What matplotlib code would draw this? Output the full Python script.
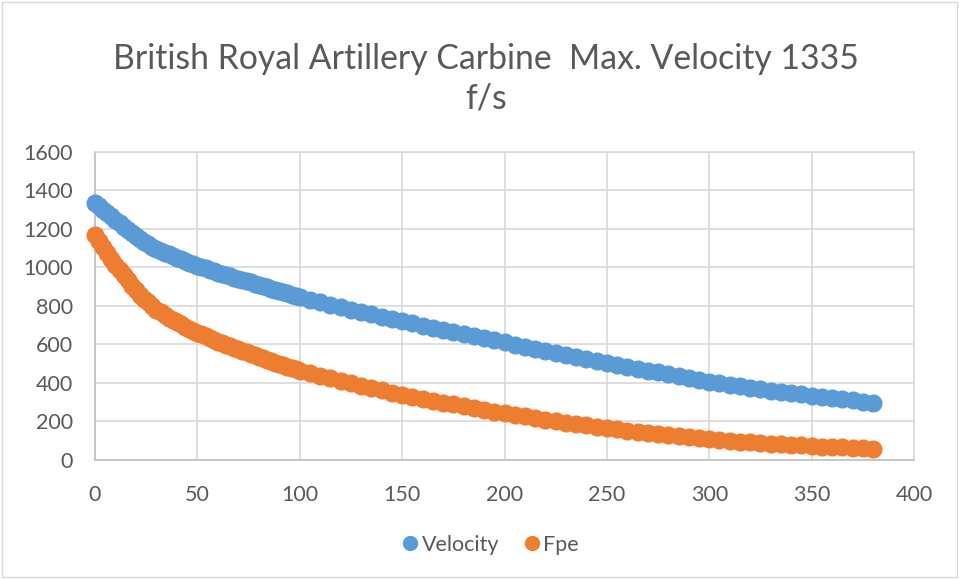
import matplotlib
matplotlib.use("Agg")
import matplotlib.pyplot as plt
from matplotlib.patches import Rectangle
from matplotlib.lines import Line2D

# Range (x) for the two ballistic series
range_near = [0, 2, 4, 6, 8, 10, 12, 14, 16, 18, 20, 22, 24, 26, 28, 30, 32, 34,
              36, 38, 40, 42, 44, 46, 48, 50, 52, 54, 56, 58, 60, 62, 64, 66, 68,
              70, 72, 74, 76, 78, 80, 82, 84, 86, 88, 90, 92, 94, 96, 98, 100]
range_far = [105, 110, 115, 120, 125, 130, 135, 140, 145, 150, 155, 160, 165, 170,
             175, 180, 185, 190, 195, 200, 205, 210, 215, 220, 225, 230, 235, 240,
             245, 250, 255, 260, 265, 270, 275, 280, 285, 290, 295, 300, 305, 310,
             315, 320, 325, 330, 335, 340, 345, 350, 355, 360, 365, 370, 375, 380]

velocity_near = [1335, 1317, 1299, 1281, 1263, 1245, 1228, 1211, 1194, 1177, 1161,
                 1147, 1133, 1120, 1107, 1095, 1085, 1075, 1066, 1057, 1048, 1040,
                 1032, 1024, 1016, 1008, 1001, 994, 986, 979, 972, 966, 959, 953,
                 946, 940, 934, 927, 921, 914, 908, 902, 895, 889, 882, 876, 870,
                 864, 857, 851, 845]
velocity_far = [832, 819, 806, 793, 780, 768, 756, 744, 732, 720, 708, 697, 686, 675,
                664, 653, 642, 631, 620, 610, 599, 588, 577, 567, 556, 545, 534, 524,
                513, 503, 493, 483, 473, 463, 454, 444, 434, 425, 415, 406, 398, 390,
                382, 375, 367, 360, 353, 346, 340, 334, 328, 321, 315, 309, 303, 298]

fpe_near = [1165, 1134, 1103, 1073, 1043, 1013, 986, 958, 932, 905, 880, 858, 837,
            817, 798, 780, 766, 752, 739, 727, 714, 703, 692, 682, 671, 661, 652,
            642, 632, 623, 614, 606, 598, 590, 582, 574, 566, 558, 550, 542, 535,
            527, 520, 512, 505, 498, 491, 484, 477, 471, 464]
fpe_far = [452, 438, 425, 411, 398, 386, 374, 362, 350, 339, 328, 318, 308, 298, 288,
           279, 269, 260, 251, 243, 235, 226, 218, 210, 202, 194, 186, 179, 172, 165,
           159, 152, 146, 140, 135, 129, 123, 118, 113, 108, 104, 99, 95, 92, 88, 85,
           81, 78, 76, 73, 70, 67, 65, 62, 60, 58]

x_ticks = [0, 50, 100, 150, 200, 250, 300, 350, 400]
y_ticks = [0, 200, 400, 600, 800, 1000, 1200, 1400, 1600]

title = "British Royal Artillery Carbine  Max. Velocity 1335\nf/s"

BLUE = "#5B9BD5"
ORANGE = "#ED7D31"
TEXT = "#595959"
GRID = "#D9D9D9"

plt.rcParams["font.family"] = ["Lato", "DejaVu Sans"]

fig = plt.figure(figsize=(9.59, 5.79), dpi=100)
ax = fig.add_axes([95 / 959, 1 - 460 / 579, (914 - 95) / 959, (460 - 151.5) / 579])

x_all = range_near + range_far
ax.plot(x_all, velocity_near + velocity_far, linestyle="none", marker="o",
        ms=12, color=BLUE, mec=BLUE, zorder=3, clip_on=False)
ax.plot(x_all, fpe_near + fpe_far, linestyle="none", marker="o",
        ms=12, color=ORANGE, mec=ORANGE, zorder=3, clip_on=False)

ax.set_xlim(0, 400)
ax.set_ylim(0, 1600)
ax.set_xticks(x_ticks)
ax.set_yticks(y_ticks)
ax.tick_params(length=0, labelsize=15.5, colors=TEXT)
ax.tick_params(axis="y", pad=16)
ax.tick_params(axis="x", pad=18)
ax.grid(True, color=GRID, linewidth=1.2)
ax.set_axisbelow(True)
for side in ["top", "right"]:
    ax.spines[side].set_color(GRID)
    ax.spines[side].set_linewidth(1.2)
for side in ["left", "bottom"]:
    ax.spines[side].set_color("#BFBFBF")
    ax.spines[side].set_linewidth(1.2)

fig.text(0.507, 1 - 79 / 579, title, ha="center", va="center",
         fontsize=24.3, color=TEXT, linespacing=1.3)

handles = [
    Line2D([], [], linestyle="none", marker="o", ms=10, color=BLUE, label="Velocity"),
    Line2D([], [], linestyle="none", marker="o", ms=10, color=ORANGE, label="Fpe"),
]
fig.legend(handles=handles, loc="center", bbox_to_anchor=(0.51, 1 - 545 / 579),
           ncol=2, frameon=False, fontsize=15.5, labelcolor=TEXT,
           handletextpad=0.05, columnspacing=1.0, handlelength=1.0)

fig.patches.append(Rectangle((2 / 959, 2 / 579), 955 / 959, 575 / 579,
                             transform=fig.transFigure, fill=False,
                             edgecolor=GRID, linewidth=1.0))

fig.savefig("out.png", dpi=100)
